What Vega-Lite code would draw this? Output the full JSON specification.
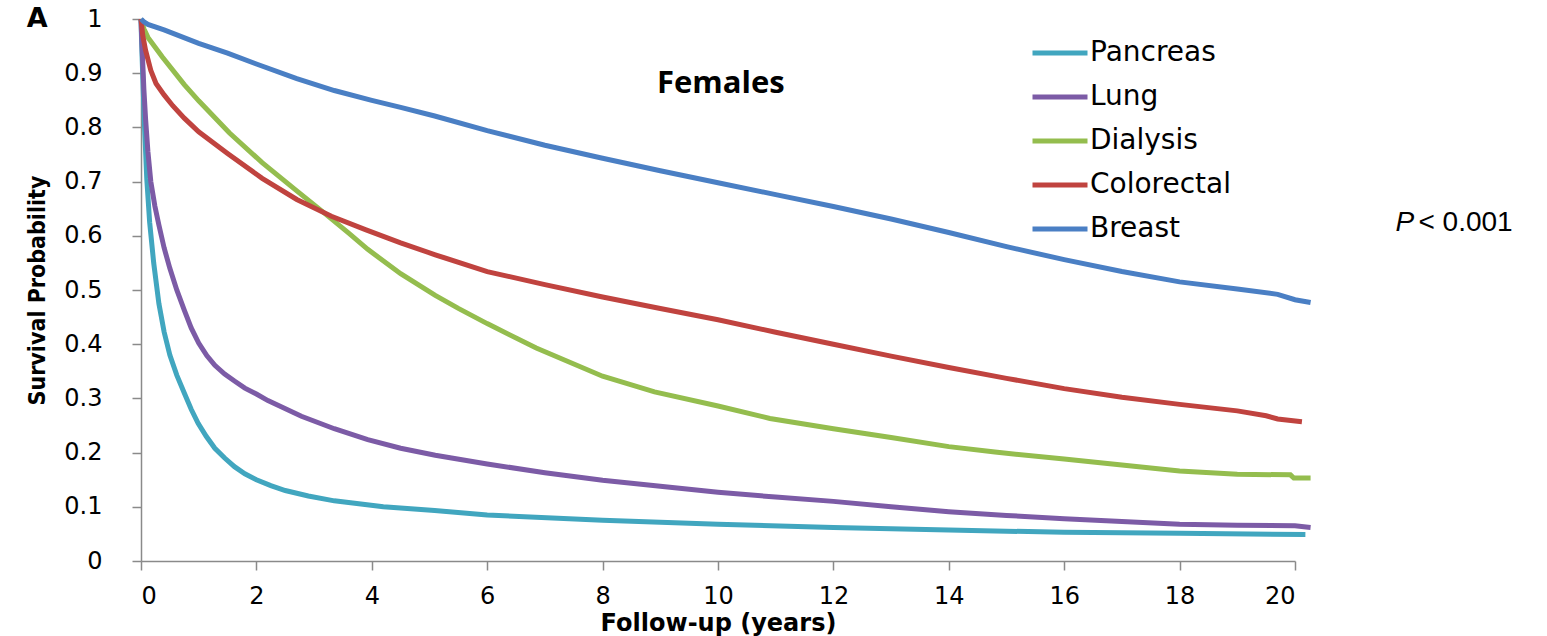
{
  "$schema": "https://vega.github.io/schema/vega-lite/v6.json",
  "width": 1154,
  "height": 542,
  "autosize": "none",
  "padding": {"left": 141, "top": 19, "right": 252, "bottom": 75},
  "background": "white",
  "config": {
    "view": {"stroke": null},
    "axis": {
      "grid": false,
      "domainColor": "#8a8a8a",
      "domainWidth": 1.5,
      "tickColor": "#8a8a8a",
      "tickWidth": 1.5,
      "tickSize": 9,
      "labelColor": "#000000",
      "labelFont": "DejaVu Sans",
      "labelFontSize": 24,
      "titleColor": "#000000"
    },
    "legend": {
      "orient": "none",
      "legendX": 889,
      "legendY": 4,
      "symbolType": "stroke",
      "symbolSize": 3025,
      "symbolStrokeWidth": 5,
      "labelFont": "DejaVu Sans",
      "labelFontSize": 28,
      "labelColor": "#000000",
      "labelOffset": 0,
      "rowPadding": -20,
      "title": null
    }
  },
  "layer": [
    {
      "data": {
        "values": [
          {"group": "Pancreas", "years": 0, "survival": 1.0},
          {"group": "Pancreas", "years": 0.01, "survival": 0.96},
          {"group": "Pancreas", "years": 0.03, "survival": 0.895},
          {"group": "Pancreas", "years": 0.06, "survival": 0.805},
          {"group": "Pancreas", "years": 0.1, "survival": 0.705},
          {"group": "Pancreas", "years": 0.15, "survival": 0.625},
          {"group": "Pancreas", "years": 0.22, "survival": 0.55},
          {"group": "Pancreas", "years": 0.31, "survival": 0.475},
          {"group": "Pancreas", "years": 0.4, "survival": 0.423},
          {"group": "Pancreas", "years": 0.5, "survival": 0.38},
          {"group": "Pancreas", "years": 0.62, "survival": 0.343},
          {"group": "Pancreas", "years": 0.75, "survival": 0.31},
          {"group": "Pancreas", "years": 0.87, "survival": 0.28},
          {"group": "Pancreas", "years": 0.99, "survival": 0.254},
          {"group": "Pancreas", "years": 1.13, "survival": 0.23},
          {"group": "Pancreas", "years": 1.28, "survival": 0.208},
          {"group": "Pancreas", "years": 1.45, "survival": 0.19},
          {"group": "Pancreas", "years": 1.62, "survival": 0.174},
          {"group": "Pancreas", "years": 1.8, "survival": 0.161},
          {"group": "Pancreas", "years": 2.0, "survival": 0.15},
          {"group": "Pancreas", "years": 2.25, "survival": 0.139},
          {"group": "Pancreas", "years": 2.5, "survival": 0.13},
          {"group": "Pancreas", "years": 2.9, "survival": 0.12},
          {"group": "Pancreas", "years": 3.35, "survival": 0.111},
          {"group": "Pancreas", "years": 4.2, "survival": 0.1},
          {"group": "Pancreas", "years": 5.09, "survival": 0.093},
          {"group": "Pancreas", "years": 6, "survival": 0.085},
          {"group": "Pancreas", "years": 8, "survival": 0.075},
          {"group": "Pancreas", "years": 10, "survival": 0.068},
          {"group": "Pancreas", "years": 12, "survival": 0.062},
          {"group": "Pancreas", "years": 14, "survival": 0.057},
          {"group": "Pancreas", "years": 16, "survival": 0.053},
          {"group": "Pancreas", "years": 18, "survival": 0.051},
          {"group": "Pancreas", "years": 20.18, "survival": 0.049},

          {"group": "Lung", "years": 0, "survival": 1.0},
          {"group": "Lung", "years": 0.01, "survival": 0.97},
          {"group": "Lung", "years": 0.02, "survival": 0.945},
          {"group": "Lung", "years": 0.05, "survival": 0.87},
          {"group": "Lung", "years": 0.08, "survival": 0.815},
          {"group": "Lung", "years": 0.12, "survival": 0.755},
          {"group": "Lung", "years": 0.17, "survival": 0.7},
          {"group": "Lung", "years": 0.24, "survival": 0.655},
          {"group": "Lung", "years": 0.31, "survival": 0.62},
          {"group": "Lung", "years": 0.4, "survival": 0.578},
          {"group": "Lung", "years": 0.5, "survival": 0.54},
          {"group": "Lung", "years": 0.62, "survival": 0.5},
          {"group": "Lung", "years": 0.75, "survival": 0.463},
          {"group": "Lung", "years": 0.87, "survival": 0.43},
          {"group": "Lung", "years": 1.0, "survival": 0.402},
          {"group": "Lung", "years": 1.14, "survival": 0.379},
          {"group": "Lung", "years": 1.28, "survival": 0.361},
          {"group": "Lung", "years": 1.45, "survival": 0.345},
          {"group": "Lung", "years": 1.62, "survival": 0.332},
          {"group": "Lung", "years": 1.8, "survival": 0.319},
          {"group": "Lung", "years": 2.0, "survival": 0.308},
          {"group": "Lung", "years": 2.2, "survival": 0.296},
          {"group": "Lung", "years": 2.78, "survival": 0.267},
          {"group": "Lung", "years": 3.35, "survival": 0.244},
          {"group": "Lung", "years": 3.93, "survival": 0.224},
          {"group": "Lung", "years": 4.5, "survival": 0.208},
          {"group": "Lung", "years": 5.1, "survival": 0.195},
          {"group": "Lung", "years": 6, "survival": 0.179},
          {"group": "Lung", "years": 7, "survival": 0.163},
          {"group": "Lung", "years": 8, "survival": 0.149},
          {"group": "Lung", "years": 9, "survival": 0.138},
          {"group": "Lung", "years": 10, "survival": 0.127},
          {"group": "Lung", "years": 11, "survival": 0.118},
          {"group": "Lung", "years": 12, "survival": 0.11},
          {"group": "Lung", "years": 13, "survival": 0.1},
          {"group": "Lung", "years": 14, "survival": 0.091},
          {"group": "Lung", "years": 15, "survival": 0.084},
          {"group": "Lung", "years": 16, "survival": 0.078},
          {"group": "Lung", "years": 17, "survival": 0.073},
          {"group": "Lung", "years": 18, "survival": 0.068},
          {"group": "Lung", "years": 19, "survival": 0.066},
          {"group": "Lung", "years": 20, "survival": 0.065},
          {"group": "Lung", "years": 20.27, "survival": 0.062},

          {"group": "Dialysis", "years": 0, "survival": 1.0},
          {"group": "Dialysis", "years": 0.05, "survival": 0.982},
          {"group": "Dialysis", "years": 0.12, "survival": 0.966},
          {"group": "Dialysis", "years": 0.37, "survival": 0.93},
          {"group": "Dialysis", "years": 0.75, "survival": 0.879},
          {"group": "Dialysis", "years": 1.0, "survival": 0.849},
          {"group": "Dialysis", "years": 1.53, "survival": 0.79},
          {"group": "Dialysis", "years": 2.1, "survival": 0.735},
          {"group": "Dialysis", "years": 2.7, "survival": 0.683},
          {"group": "Dialysis", "years": 3.2, "survival": 0.64},
          {"group": "Dialysis", "years": 3.6, "survival": 0.605},
          {"group": "Dialysis", "years": 3.93, "survival": 0.575},
          {"group": "Dialysis", "years": 4.5, "survival": 0.53},
          {"group": "Dialysis", "years": 5.1, "survival": 0.49},
          {"group": "Dialysis", "years": 5.5, "survival": 0.466},
          {"group": "Dialysis", "years": 6, "survival": 0.438},
          {"group": "Dialysis", "years": 6.85, "survival": 0.393},
          {"group": "Dialysis", "years": 8, "survival": 0.341},
          {"group": "Dialysis", "years": 8.9, "survival": 0.312},
          {"group": "Dialysis", "years": 10, "survival": 0.286},
          {"group": "Dialysis", "years": 10.9, "survival": 0.263},
          {"group": "Dialysis", "years": 12, "survival": 0.244},
          {"group": "Dialysis", "years": 13, "survival": 0.228},
          {"group": "Dialysis", "years": 14, "survival": 0.211},
          {"group": "Dialysis", "years": 14.8, "survival": 0.201},
          {"group": "Dialysis", "years": 16, "survival": 0.188},
          {"group": "Dialysis", "years": 17, "survival": 0.177},
          {"group": "Dialysis", "years": 18, "survival": 0.166},
          {"group": "Dialysis", "years": 19, "survival": 0.16},
          {"group": "Dialysis", "years": 19.92, "survival": 0.159},
          {"group": "Dialysis", "years": 19.98, "survival": 0.153},
          {"group": "Dialysis", "years": 20.27, "survival": 0.153},

          {"group": "Colorectal", "years": 0, "survival": 1.0},
          {"group": "Colorectal", "years": 0.03, "survival": 0.97},
          {"group": "Colorectal", "years": 0.08, "survival": 0.942},
          {"group": "Colorectal", "years": 0.17, "survival": 0.905},
          {"group": "Colorectal", "years": 0.26, "survival": 0.881},
          {"group": "Colorectal", "years": 0.4, "survival": 0.86},
          {"group": "Colorectal", "years": 0.55, "survival": 0.84},
          {"group": "Colorectal", "years": 0.75, "survival": 0.817},
          {"group": "Colorectal", "years": 1.0, "survival": 0.792},
          {"group": "Colorectal", "years": 1.5, "survival": 0.752},
          {"group": "Colorectal", "years": 2.1, "survival": 0.706},
          {"group": "Colorectal", "years": 2.7, "survival": 0.667},
          {"group": "Colorectal", "years": 3.3, "survival": 0.636},
          {"group": "Colorectal", "years": 3.9, "survival": 0.611},
          {"group": "Colorectal", "years": 4.5, "survival": 0.587},
          {"group": "Colorectal", "years": 5.1, "survival": 0.565},
          {"group": "Colorectal", "years": 6, "survival": 0.534},
          {"group": "Colorectal", "years": 7, "survival": 0.51},
          {"group": "Colorectal", "years": 8, "survival": 0.487},
          {"group": "Colorectal", "years": 9, "survival": 0.466},
          {"group": "Colorectal", "years": 10, "survival": 0.445},
          {"group": "Colorectal", "years": 11, "survival": 0.422},
          {"group": "Colorectal", "years": 12, "survival": 0.4},
          {"group": "Colorectal", "years": 13, "survival": 0.378},
          {"group": "Colorectal", "years": 14, "survival": 0.357},
          {"group": "Colorectal", "years": 15, "survival": 0.337},
          {"group": "Colorectal", "years": 16, "survival": 0.318},
          {"group": "Colorectal", "years": 17, "survival": 0.302},
          {"group": "Colorectal", "years": 18, "survival": 0.289},
          {"group": "Colorectal", "years": 19, "survival": 0.277},
          {"group": "Colorectal", "years": 19.5, "survival": 0.268},
          {"group": "Colorectal", "years": 19.7, "survival": 0.262},
          {"group": "Colorectal", "years": 20.12, "survival": 0.257},

          {"group": "Breast", "years": 0, "survival": 1.0},
          {"group": "Breast", "years": 0.05, "survival": 0.995},
          {"group": "Breast", "years": 0.12, "survival": 0.99},
          {"group": "Breast", "years": 0.4, "survival": 0.98},
          {"group": "Breast", "years": 1.0, "survival": 0.955},
          {"group": "Breast", "years": 1.5, "survival": 0.937},
          {"group": "Breast", "years": 2, "survival": 0.917},
          {"group": "Breast", "years": 2.7, "survival": 0.89},
          {"group": "Breast", "years": 3.35, "survival": 0.868},
          {"group": "Breast", "years": 4, "survival": 0.85},
          {"group": "Breast", "years": 4.5, "survival": 0.837},
          {"group": "Breast", "years": 5.09, "survival": 0.821},
          {"group": "Breast", "years": 6, "survival": 0.794},
          {"group": "Breast", "years": 7, "survival": 0.767},
          {"group": "Breast", "years": 8, "survival": 0.743},
          {"group": "Breast", "years": 9, "survival": 0.72},
          {"group": "Breast", "years": 10, "survival": 0.698},
          {"group": "Breast", "years": 11, "survival": 0.676},
          {"group": "Breast", "years": 12, "survival": 0.654},
          {"group": "Breast", "years": 13, "survival": 0.631},
          {"group": "Breast", "years": 14, "survival": 0.606},
          {"group": "Breast", "years": 15, "survival": 0.58},
          {"group": "Breast", "years": 16, "survival": 0.556},
          {"group": "Breast", "years": 17, "survival": 0.534},
          {"group": "Breast", "years": 18, "survival": 0.515},
          {"group": "Breast", "years": 19, "survival": 0.502},
          {"group": "Breast", "years": 19.7, "survival": 0.492},
          {"group": "Breast", "years": 20.0, "survival": 0.482},
          {"group": "Breast", "years": 20.27, "survival": 0.477}
        ]
      },
      "mark": {"type": "line", "strokeWidth": 5, "clip": false},
      "encoding": {
        "x": {
          "field": "years",
          "type": "quantitative",
          "scale": {"domain": [0, 20], "nice": false, "zero": false},
          "axis": {
            "values": [0, 2, 4, 6, 8, 10, 12, 14, 16, 18, 20],
            "format": "d",
            "labelPadding": 14,
            "title": "Follow-up (years)",
            "titleFont": "DejaVu Sans",
            "titleFontWeight": "bold",
            "titleFontSize": 24,
            "titlePadding": 3
          }
        },
        "y": {
          "field": "survival",
          "type": "quantitative",
          "scale": {"domain": [0, 1], "nice": false},
          "axis": {
            "values": [0, 0.1, 0.2, 0.3, 0.4, 0.5, 0.6, 0.7, 0.8, 0.9, 1],
            "format": "~g",
            "labelPadding": 30,
            "title": "Survival Probability",
            "titleFont": "Liberation Sans Narrow, DejaVu Sans Condensed, DejaVu Sans",
            "titleFontWeight": "bold",
            "titleFontSize": 23,
            "titlePadding": 14
          }
        },
        "color": {
          "field": "group",
          "type": "nominal",
          "scale": {
            "domain": ["Pancreas", "Lung", "Dialysis", "Colorectal", "Breast"],
            "range": ["#41a6bf", "#7c5ba6", "#94bd4e", "#c0433f", "#4a7fc4"]
          },
          "legend": {}
        }
      }
    },
    {
      "data": {"values": [{}]},
      "mark": {"type": "text", "font": "Open Sans", "fontWeight": "bold", "fontSize": 31, "align": "center", "baseline": "middle", "color": "#000000"},
      "encoding": {
        "x": {"datum": 10.05},
        "y": {"datum": 0.88},
        "text": {"value": "Females"}
      }
    },
    {
      "data": {"values": [{}]},
      "mark": {"type": "text", "font": "DejaVu Sans", "fontWeight": "bold", "fontSize": 27, "align": "center", "baseline": "middle", "color": "#000000"},
      "encoding": {
        "x": {"datum": -1.8},
        "y": {"datum": 1.0},
        "text": {"value": "A"}
      }
    },
    {
      "data": {"values": [{}]},
      "mark": {"type": "text", "font": "Liberation Sans", "fontStyle": "italic", "fontSize": 28, "align": "left", "baseline": "middle", "color": "#000000"},
      "encoding": {
        "x": {"datum": 21.74},
        "y": {"datum": 0.624},
        "text": {"value": "P"}
      }
    },
    {
      "data": {"values": [{}]},
      "mark": {"type": "text", "font": "Liberation Sans", "fontSize": 28, "align": "left", "baseline": "middle", "color": "#000000"},
      "encoding": {
        "x": {"datum": 22.14},
        "y": {"datum": 0.624},
        "text": {"value": "< 0.001"}
      }
    }
  ]
}
